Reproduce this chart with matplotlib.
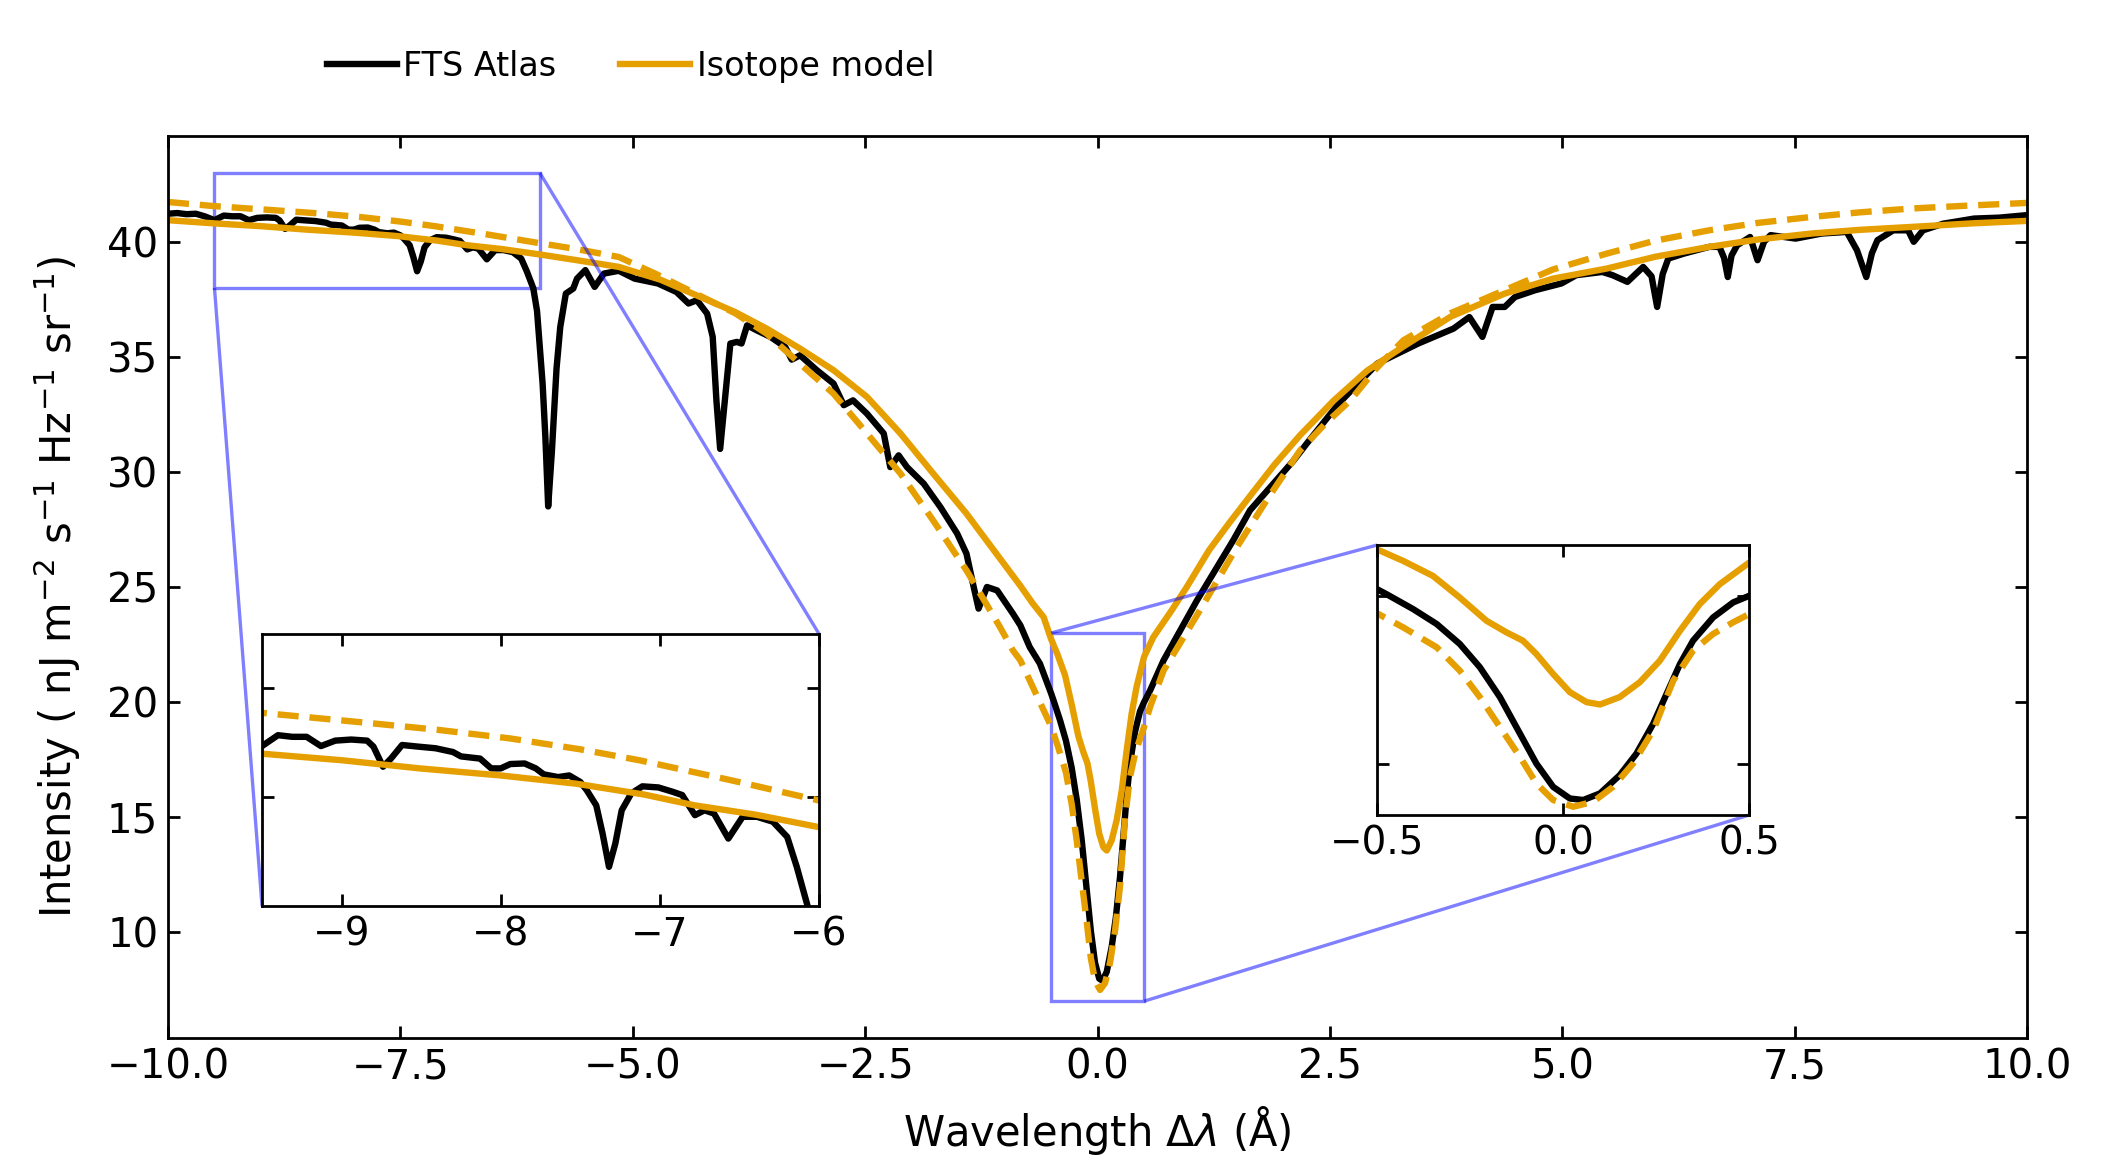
import matplotlib
matplotlib.use('Agg')
import matplotlib.pyplot as plt
from mpl_toolkits.axes_grid1.inset_locator import mark_inset

ORANGE = '#E69F00'

# FTS atlas profile (wavelength offset in Angstrom, intensity)
fts_wl = [-10.00, -9.90, -9.80, -9.70, -9.60, -9.50, -9.40, -9.31, -9.22, -9.13,
          -9.04, -8.94, -8.84, -8.80, -8.74, -8.69, -8.62, -8.52, -8.41, -8.30,
          -8.25, -8.13, -8.06, -8.00, -7.94, -7.85, -7.78, -7.73, -7.64, -7.57,
          -7.50, -7.46, -7.40, -7.36, -7.32, -7.28, -7.24, -7.18, -7.11, -7.01,
          -6.92, -6.86, -6.78, -6.72, -6.66, -6.57, -6.48, -6.39, -6.29, -6.20,
          -6.14, -6.07, -6.03, -5.97, -5.94, -5.91, -5.87, -5.82, -5.78, -5.72,
          -5.64, -5.60, -5.51, -5.41, -5.31, -5.15, -4.98, -4.73, -4.53, -4.40,
          -4.31, -4.20, -4.14, -4.10, -4.06, -4.01, -3.95, -3.88, -3.83, -3.77,
          -3.67, -3.52, -3.36, -3.29, -3.20, -3.02, -2.84, -2.73, -2.63, -2.48,
          -2.30, -2.23, -2.14, -2.05, -1.87, -1.69, -1.51, -1.41, -1.34, -1.28,
          -1.19, -1.08, -0.91, -0.83, -0.73, -0.62, -0.50, -0.475, -0.403, -0.34,
          -0.278, -0.224, -0.17, -0.116, -0.072, -0.027, 0.018, 0.054, 0.099, 0.152,
          0.197, 0.242, 0.278, 0.314, 0.349, 0.403, 0.457, 0.50, 0.565, 0.71,
          1.07, 1.46, 1.64, 2.11, 2.25, 2.60, 3.01, 3.45, 3.83, 4.00,
          4.14, 4.25, 4.38, 4.49, 4.71, 4.99, 5.15, 5.43, 5.54, 5.70,
          5.87, 5.96, 6.02, 6.08, 6.14, 6.31, 6.58, 6.69, 6.74, 6.78,
          6.82, 6.88, 7.02, 7.10, 7.17, 7.24, 7.51, 7.79, 8.06, 8.17,
          8.27, 8.33, 8.39, 8.56, 8.72, 8.78, 8.88, 9.10, 9.43, 9.70,
          10.00]
fts_int = [41.22, 41.25, 41.20, 41.22, 41.10, 40.94, 41.14, 41.11, 41.11, 40.94,
           41.04, 41.06, 41.04, 40.93, 40.56, 40.71, 40.96, 40.93, 40.90, 40.83,
           40.75, 40.71, 40.53, 40.53, 40.61, 40.62, 40.53, 40.42, 40.37, 40.40,
           40.28, 40.13, 39.85, 39.33, 38.72, 39.15, 39.76, 40.07, 40.20, 40.18,
           40.10, 40.04, 39.67, 39.76, 39.70, 39.24, 39.64, 39.64, 39.55, 39.27,
           38.72, 37.98, 37.00, 33.85, 31.50, 28.50, 30.90, 34.50, 36.30, 37.75,
           37.97, 38.40, 38.77, 38.04, 38.62, 38.74, 38.40, 38.19, 37.82, 37.32,
           37.46, 36.88, 35.87, 33.10, 31.00, 33.10, 35.58, 35.65, 35.58, 36.37,
           36.16, 35.87, 35.43, 34.88, 35.07, 34.42, 33.84, 32.90, 33.11, 32.53,
           31.67, 30.21, 30.72, 30.21, 29.49, 28.47, 27.32, 26.45, 25.14, 24.06,
           25.00, 24.85, 23.84, 23.33, 22.39, 21.67, 20.38, 20.09, 19.20, 18.32,
           17.14, 15.76, 13.99, 11.82, 10.05, 8.67, 7.98, 7.89, 8.28, 9.36,
           10.64, 12.41, 14.18, 15.95, 17.33, 18.71, 19.60, 19.99, 20.50, 21.81,
           24.42, 27.03, 28.33, 30.50, 31.23, 33.00, 34.71, 35.58, 36.23, 36.73,
           35.87, 37.17, 37.17, 37.60, 37.90, 38.19, 38.55, 38.69, 38.55, 38.26,
           38.91, 38.50, 37.17, 38.60, 39.27, 39.49, 39.78, 39.78, 39.30, 38.47,
           39.40, 39.85, 40.21, 39.20, 40.00, 40.29, 40.14, 40.36, 40.43, 39.63,
           38.47, 39.50, 40.07, 40.50, 40.50, 40.00, 40.50, 40.79, 41.01, 41.05,
           41.16]

# Isotope model (solid)
model_wl = [-10.00, -9.50, -9.00, -8.51, -8.00, -7.53, -7.10, -6.78, -6.40, -6.00,
            -5.60, -5.15, -4.70, -4.30, -3.90, -3.56, -3.20, -2.84, -2.48, -2.12,
            -1.77, -1.41, -1.05, -0.83, -0.70, -0.58, -0.50, -0.43, -0.35, -0.278,
            -0.206, -0.152, -0.108, -0.072, -0.027, 0.018, 0.063, 0.099, 0.152, 0.206,
            0.26, 0.314, 0.367, 0.421, 0.50, 0.60, 0.80, 0.96, 1.20, 1.42,
            1.64, 1.90, 2.18, 2.54, 2.90, 3.29, 3.80, 4.38, 4.90, 5.48,
            6.00, 6.58, 7.10, 7.68, 8.20, 8.77, 9.40, 10.00]
model_int = [40.94, 40.80, 40.68, 40.53, 40.40, 40.25, 40.05, 39.85, 39.68, 39.45,
             39.20, 38.91, 38.35, 37.65, 36.95, 36.23, 35.36, 34.42, 33.26, 31.67,
             29.94, 28.19, 26.24, 25.05, 24.30, 23.69, 22.74, 22.06, 21.17, 19.89,
             18.51, 17.82, 17.33, 16.54, 15.36, 14.28, 13.69, 13.55, 13.99, 14.87,
             16.15, 17.92, 19.50, 20.68, 21.96, 22.82, 24.00, 25.00, 26.60, 27.80,
             28.95, 30.30, 31.60, 33.10, 34.40, 35.45, 36.75, 37.75, 38.40, 38.84,
             39.35, 39.78, 40.10, 40.36, 40.52, 40.65, 40.80, 40.91]

# second model profile (dashed, not in legend)
dashed_wl = [-10.00, -9.50, -8.85, -8.40, -7.94, -7.50, -7.13, -6.55, -6.00, -5.60,
             -5.15, -4.75, -4.30, -3.90, -3.56, -3.20, -2.84, -2.48, -2.12, -1.77,
             -1.41, -1.05, -0.91, -0.83, -0.50, -0.43, -0.34, -0.278, -0.224, -0.17,
             -0.116, -0.072, -0.027, 0.027, 0.081, 0.134, 0.188, 0.242, 0.296, 0.349,
             0.403, 0.457, 0.50, 0.565, 0.71, 1.10, 1.50, 1.84, 2.18, 2.45,
             2.72, 3.00, 3.29, 3.80, 4.38, 4.90, 5.48, 6.00, 6.58, 7.10,
             7.68, 8.20, 8.77, 9.40, 10.00]
dashed_int = [41.73, 41.55, 41.37, 41.24, 41.08, 40.88, 40.68, 40.31, 39.94, 39.68,
              39.34, 38.60, 37.70, 36.90, 36.01, 34.70, 33.40, 31.67, 29.93, 27.90,
              25.72, 23.26, 22.24, 21.81, 18.95, 18.12, 16.94, 15.56, 13.99, 12.21,
              10.44, 8.87, 7.89, 7.49, 7.79, 8.67, 10.05, 12.02, 14.97, 16.74,
              17.73, 18.42, 18.91, 19.78, 21.37, 23.98, 26.74, 28.90, 30.94, 32.10,
              33.11, 34.50, 35.72, 36.90, 37.90, 38.80, 39.49, 40.05, 40.50, 40.82,
              41.08, 41.28, 41.45, 41.58, 41.69]

main_xticks = [-10, -7.5, -5, -2.5, 0, 2.5, 5, 7.5, 10]
main_yticks = [10, 15, 20, 25, 30, 35, 40]
left_xticks = [-9, -8, -7, -6]
left_yticks = [40, 42]
right_xticks = [-0.5, 0.0, 0.5]
right_yticks = [10, 20]

LW = 2.3
DASH = (0, (3.3, 1.7))


def draw_profiles(a, labels=False):
    a.plot(fts_wl, fts_int, color='black', lw=LW,
           label='FTS Atlas' if labels else None)
    a.plot(model_wl, model_int, color=ORANGE, lw=LW,
           label='Isotope model' if labels else None)
    a.plot(dashed_wl, dashed_int, color=ORANGE, lw=LW, linestyle=DASH)


def style_axes(a, size):
    a.tick_params(direction='in', top=True, right=True, length=4.3,
                  width=1.0, labelsize=size)
    for s in a.spines.values():
        s.set_linewidth(1.0)


fig = plt.figure(figsize=(10.525, 5.81), dpi=200)
ax = fig.add_axes([0.0798, 0.1067, 0.8832, 0.7763])
draw_profiles(ax, labels=True)
ax.set_xlim(-10, 10)
ax.set_ylim(5.4, 44.6)
ax.set_xticks(main_xticks)
ax.set_yticks(main_yticks)
style_axes(ax, 14.5)
ax.set_xlabel(r'Wavelength $\Delta\lambda$ (Å)', fontsize=15, labelpad=6)
ax.set_ylabel(r'Intensity ( nJ m$^{-2}$ s$^{-1}$ Hz$^{-1}$ sr$^{-1}$)',
              fontsize=15, labelpad=8.5)

# left inset: far blue wing
axl = ax.inset_axes([0.0506, 0.1463, 0.2996, 0.3016])
draw_profiles(axl)
axl.set_xlim(-9.5, -6)
axl.set_ylim(38, 43)
axl.set_xticks(left_xticks)
axl.set_yticks(left_yticks)
axl.set_yticklabels([])
style_axes(axl, 14)
mark_inset(ax, axl, loc1=1, loc2=3, fc='none', ec='blue', alpha=0.5, lw=1.2)

# right inset: line core
axr = ax.inset_axes([0.6504, 0.2472, 0.2001, 0.2993])
draw_profiles(axr)
axr.set_xlim(-0.5, 0.5)
axr.set_ylim(7, 23)
axr.set_xticks(right_xticks)
axr.set_yticks(right_yticks)
axr.set_yticklabels([])
style_axes(axr, 14)
mark_inset(ax, axr, loc1=2, loc2=4, fc='none', ec='blue', alpha=0.5, lw=1.2)

ax.legend(loc='center left', bbox_to_anchor=(0.141, 0.943),
          bbox_transform=fig.transFigure, ncol=2, frameon=False, fontsize=12,
          handlelength=2.1, handletextpad=0.2, columnspacing=1.9)

fig.savefig('out.png', dpi=200)
